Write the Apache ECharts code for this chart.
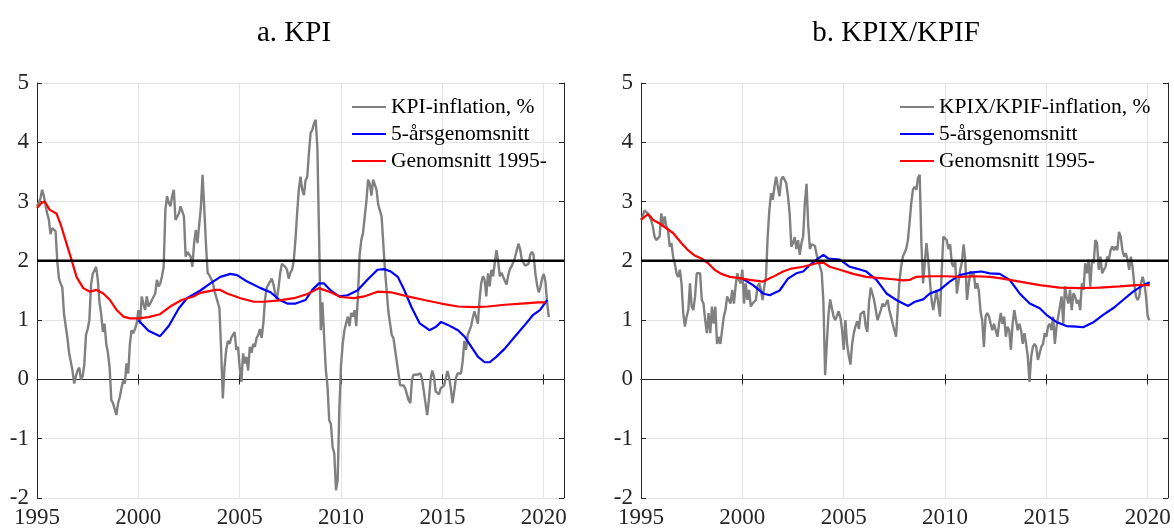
<!DOCTYPE html>
<html>
<head>
<meta charset="utf-8">
<script src="https://cdn.jsdelivr.net/npm/echarts@6/dist/echarts.min.js"></script>
<style>
  html, body { margin: 0; padding: 0; background: #fff; }
  #chart { width: 1174px; height: 530px; }
</style>
</head>
<body>
<div id="chart"></div>
<script>
// monthly samples, first point Jan 1995
const startYear = 1995;
const stepYears = 1 / 12;

// a. KPI, yearly inflation (%)
const kpiInflation = [
  2.92, 2.98, 3.05, 3.2, 3.1, 2.95, 2.8, 2.7, 2.45, 2.55, 2.58, 2.5,
  2.0, 1.7, 1.62, 1.55, 1.1, 0.9, 0.7, 0.45, 0.3, 0.15, -0.07, 0.05,
  0.15, 0.2, 0.0, 0.05, 0.25, 0.75, 0.85, 1.0, 1.6, 1.78, 1.8, 1.9,
  1.68, 1.3, 1.1, 0.8, 0.94, 0.6, 0.45, 0.2, -0.35, -0.4, -0.5, -0.6,
  -0.4, -0.3, -0.15, -0.02, -0.07, 0.27, 0.1, 0.6, 0.83, 0.78, 0.85, 0.94,
  1.17, 0.94, 1.4, 1.28, 1.17, 1.4, 1.23, 1.28, 1.34, 1.34, 1.45, 1.68,
  1.57, 1.62, 1.74, 1.9, 2.86, 3.09, 2.98, 2.92, 3.09, 3.2, 2.69, 2.69,
  2.8, 2.92, 2.92, 2.75, 2.07, 2.15, 2.18, 2.07, 1.9, 2.3, 2.52, 2.3,
  2.6, 2.9, 3.45, 2.9, 2.3, 1.8, 1.76, 1.7, 1.65, 1.5, 1.4, 1.4,
  1.2, 0.5, -0.32, 0.2, 0.5, 0.65, 0.6, 0.7, 0.75, 0.8, 0.5, 0.55,
  0.2, -0.04, 0.44, 0.27, 0.38, 0.15, 0.55, 0.45, 0.6, 0.55, 0.7, 0.75,
  0.85, 0.7, 0.95, 1.35, 1.55, 1.6, 1.65, 1.7, 1.6, 1.45, 1.35, 1.55,
  1.8, 1.95, 1.96, 1.9, 1.85, 1.7, 1.8, 1.85, 2.0, 2.35, 2.8, 3.2,
  3.42, 3.2, 3.11, 3.36, 3.42, 3.82, 4.16, 4.21, 4.32, 4.38, 3.9, 2.4,
  0.83, 1.3, 0.7, 0.16, -0.12, -0.69, -0.75, -1.14, -1.25, -1.87, -1.7, -0.5,
  0.25, 0.6, 0.83, 0.85, 1.06, 0.9, 1.12, 1.06, 1.17, 0.9, 1.4, 2.1,
  2.35, 2.47, 2.5, 3.0, 3.37, 3.3, 3.1, 3.37, 3.37, 3.2, 2.95, 2.85,
  2.75, 2.3, 1.85, 1.5, 1.15, 0.95, 0.75, 0.7, 0.5, 0.3, 0.1, -0.1,
  -0.08, -0.1, -0.15, -0.15, -0.35, -0.4, 0.0, 0.08, 0.05, 0.08, 0.08, 0.1,
  0.0, -0.2, -0.4, -0.6, -0.35, 0.0, 0.15, 0.05, -0.2, -0.22, -0.25, -0.15,
  -0.15, -0.1, 0.02, 0.14, 0.03, -0.15, -0.4, -0.2, 0.02, 0.1, 0.08, 0.1,
  0.3, 0.65, 0.5, 0.75, 0.73, 0.9, 1.04, 1.15, 1.12, 0.94, 1.34, 1.62,
  1.74, 1.68, 1.4, 1.79, 1.57, 1.85, 1.74, 1.96, 2.18, 2.0, 1.74, 1.8,
  1.83, 1.66, 1.6, 1.76, 1.86, 1.91, 1.98, 2.06, 2.08, 2.29, 2.2, 2.02,
  2.0, 1.92, 1.95, 1.95, 2.1, 2.15, 2.1, 1.8, 1.6, 1.47, 1.55, 1.7,
  1.78, 1.65, 1.3, 1.05
];

// a. KPI, 5-year average [year, %]
const kpiAvg5 = [
  [2000.0, 1.0], [2000.5, 0.82], [2001.07, 0.73], [2001.5, 0.9], [2002.0, 1.2],
  [2002.4, 1.37], [2003.06, 1.5], [2003.55, 1.62], [2004.05, 1.73], [2004.54, 1.78],
  [2004.87, 1.76], [2005.37, 1.65], [2006.03, 1.54], [2006.52, 1.47], [2006.93, 1.35],
  [2007.35, 1.28], [2007.76, 1.28], [2008.0, 1.31], [2008.25, 1.34], [2008.58, 1.51],
  [2008.91, 1.62], [2009.16, 1.62], [2009.49, 1.5], [2009.9, 1.4], [2010.32, 1.42],
  [2010.81, 1.5], [2011.3, 1.68], [2011.8, 1.85], [2012.13, 1.86], [2012.46, 1.82],
  [2012.8, 1.73], [2013.13, 1.5], [2013.46, 1.23], [2013.87, 0.95], [2014.36, 0.83],
  [2014.69, 0.89], [2014.94, 0.97], [2015.27, 0.92], [2015.77, 0.83], [2016.1, 0.72],
  [2016.43, 0.55], [2016.76, 0.38], [2017.09, 0.29], [2017.33, 0.29], [2017.66, 0.38],
  [2018.08, 0.52], [2018.57, 0.72], [2019.07, 0.92], [2019.48, 1.09], [2019.81, 1.17],
  [2020.17, 1.34]
];

// a. KPI, average since 1995 [year, %]
const kpiAvgSince = [
  [1995.0, 2.89], [1995.2, 2.97], [1995.38, 3.0], [1995.63, 2.86], [1995.96, 2.8],
  [1996.2, 2.58], [1996.45, 2.3], [1996.7, 2.02], [1996.95, 1.73], [1997.28, 1.54],
  [1997.61, 1.48], [1997.94, 1.51], [1998.27, 1.45], [1998.6, 1.34], [1998.93, 1.17],
  [1999.26, 1.06], [1999.59, 1.03], [2000.0, 1.03], [2000.5, 1.05], [2001.07, 1.1],
  [2001.57, 1.23], [2002.14, 1.34], [2002.72, 1.4], [2003.06, 1.46], [2003.8, 1.51],
  [2004.05, 1.51], [2004.38, 1.45], [2005.04, 1.37], [2005.7, 1.31], [2006.19, 1.31],
  [2006.85, 1.33], [2007.68, 1.37], [2008.34, 1.44], [2008.91, 1.54], [2009.49, 1.47],
  [2009.99, 1.39], [2010.65, 1.37], [2011.14, 1.4], [2011.8, 1.48], [2012.46, 1.47],
  [2013.29, 1.4], [2014.11, 1.34], [2014.94, 1.28], [2015.77, 1.23], [2016.59, 1.22],
  [2017.25, 1.23], [2018.08, 1.26], [2018.9, 1.28], [2019.73, 1.3], [2020.1, 1.3]
];

// b. KPIX/KPIF, yearly inflation (%)
const kpifInflation = [
  2.69, 2.75, 2.85, 2.87, 2.8, 2.75, 2.69, 2.58, 2.41, 2.35, 2.38, 2.41,
  2.8, 2.58, 2.75, 2.58, 2.52, 2.24, 2.3, 2.07, 1.96, 1.79, 1.73, 1.85,
  1.62, 1.12, 0.89, 1.06, 1.17, 1.62, 1.23, 1.17, 1.4, 1.79, 1.79, 1.79,
  1.34, 1.28, 1.0, 0.78, 1.12, 0.78, 1.23, 0.94, 1.23, 0.6, 0.72, 0.6,
  0.6, 1.06, 1.17, 1.4, 1.34, 1.28, 1.51, 1.28, 1.57, 1.79, 1.68, 1.62,
  1.85, 1.28, 1.62, 1.34, 1.51, 1.23, 1.28, 1.28, 1.34, 1.57, 1.62, 1.51,
  1.34, 1.57, 1.73, 2.41, 2.86, 3.14, 3.03, 3.25, 3.42, 3.25, 3.09, 3.37,
  3.42, 3.37, 3.31, 3.09, 2.8, 2.24, 2.3, 2.4, 2.2, 2.35, 2.1, 2.3,
  2.41, 2.97, 3.3, 2.6, 2.2, 2.28, 2.3, 2.25, 2.1, 2.0, 1.9, 1.8,
  1.3, 0.07, 0.6, 1.1, 1.35, 1.2, 1.06, 1.0, 1.03, 1.15, 1.05, 0.85,
  0.5, 1.0, 0.6, 0.4, 0.25, 0.6, 0.78, 0.9, 0.98, 0.85, 1.1, 1.08,
  1.15, 0.9, 0.8, 1.3, 1.55, 1.52, 1.34, 1.17, 1.0, 1.0, 1.17, 1.28,
  1.23, 1.28, 1.34, 1.17, 1.06, 0.94, 0.94, 0.72, 1.2, 1.65, 1.9, 2.07,
  2.1, 2.2, 2.35, 2.65, 2.97, 3.2, 3.25, 3.2, 3.4, 3.45, 2.3, 1.62,
  1.96, 2.3, 2.02, 1.68, 1.34, 1.17, 1.34, 1.51, 1.28, 1.06, 1.8, 2.41,
  2.4, 2.35, 2.2, 2.28, 1.96, 1.9, 2.0, 1.45, 1.65, 1.85, 1.98, 2.28,
  2.0, 1.34, 1.6, 1.82, 1.75, 1.8, 1.53, 1.62, 1.5, 1.15, 1.0, 0.55,
  1.06, 1.12, 1.06, 0.94, 0.83, 0.94, 0.83, 0.72, 0.94, 1.12, 0.94, 1.06,
  0.72, 0.89, 0.83, 0.5, 0.94, 1.17, 1.0, 0.83, 0.94, 0.83, 0.6, 0.78,
  0.6, 0.38, -0.04, 0.38, 0.55, 0.6, 0.55, 0.33, 0.44, 0.55, 0.6, 0.78,
  0.72, 0.89, 0.94, 0.83, 1.06, 0.6, 0.89, 1.06, 1.06, 1.4, 0.94, 1.57,
  1.4, 1.28, 1.51, 1.17, 1.45, 1.4, 1.28, 1.34, 1.17, 1.62, 1.51, 1.96,
  1.79, 2.02, 1.57, 2.02, 1.96, 2.35, 2.3, 1.85, 2.07, 1.79, 1.85, 1.9,
  2.07, 2.02, 2.18, 2.24, 2.18, 2.24, 2.18, 2.49, 2.41, 2.18, 2.07, 2.13,
  2.02, 1.85, 2.07, 1.9, 1.62, 1.4, 1.34, 1.4, 1.62, 1.73, 1.62, 1.4,
  1.06, 1.0
];

// b. KPIX/KPIF, 5-year average [year, %]
const kpifAvg5 = [
  [2000.0, 1.7], [2000.53, 1.59], [2001.02, 1.45], [2001.35, 1.42], [2001.84, 1.5],
  [2002.25, 1.7], [2002.66, 1.79], [2003.0, 1.82], [2003.33, 1.93], [2003.66, 2.02],
  [2004.0, 2.1], [2004.23, 2.04], [2004.81, 2.02], [2005.3, 1.9], [2005.63, 1.87],
  [2006.12, 1.82], [2006.62, 1.68], [2007.11, 1.45], [2007.6, 1.34], [2007.93, 1.28],
  [2008.18, 1.24], [2008.51, 1.31], [2008.92, 1.35], [2009.25, 1.45], [2009.74, 1.51],
  [2010.23, 1.65], [2010.73, 1.76], [2011.22, 1.8], [2011.8, 1.82], [2012.21, 1.79],
  [2012.7, 1.78], [2013.19, 1.68], [2013.68, 1.45], [2014.18, 1.28], [2014.67, 1.2],
  [2015.0, 1.09], [2015.49, 0.97], [2015.99, 0.9], [2016.48, 0.89], [2016.81, 0.88],
  [2017.3, 0.96], [2017.8, 1.09], [2018.29, 1.2], [2018.78, 1.34], [2019.28, 1.48],
  [2019.77, 1.59], [2020.1, 1.64]
];

// b. KPIX/KPIF, average since 1995 [year, %]
const kpifAvgSince = [
  [1995.0, 2.69], [1995.35, 2.79], [1995.6, 2.69], [1995.92, 2.63], [1996.25, 2.55],
  [1996.58, 2.47], [1996.99, 2.3], [1997.32, 2.18], [1997.65, 2.09], [1997.98, 2.04],
  [1998.31, 1.96], [1998.63, 1.85], [1998.96, 1.78], [1999.38, 1.73], [1999.87, 1.71],
  [2000.36, 1.68], [2001.02, 1.65], [2001.51, 1.73], [2002.01, 1.82], [2002.42, 1.87],
  [2003.0, 1.9], [2003.66, 1.96], [2004.0, 1.97], [2004.31, 1.9], [2004.81, 1.85],
  [2005.47, 1.78], [2006.12, 1.73], [2006.78, 1.71], [2007.44, 1.69], [2007.93, 1.67],
  [2008.26, 1.68], [2008.59, 1.73], [2009.25, 1.74], [2010.07, 1.74], [2010.73, 1.73],
  [2011.55, 1.74], [2012.2, 1.73], [2012.7, 1.71], [2013.68, 1.65], [2014.67, 1.59],
  [2015.66, 1.55], [2016.64, 1.54], [2017.63, 1.55], [2018.62, 1.57], [2019.44, 1.59],
  [2020.1, 1.59]
];

const target = 2;
const panelTitles = ['a. KPI', 'b. KPIX/KPIF'];
const legendNames = [
  ['KPI-inflation, %', '5-årsgenomsnitt', 'Genomsnitt 1995-'],
  ['KPIX/KPIF-inflation, %', '5-årsgenomsnitt', 'Genomsnitt 1995-']
];

const FONT = '"Liberation Serif", "Times New Roman", serif';
const TXT = '#262626';
const AXIS = '#262626';
const GRIDLINE = '#e3e3e3';

function monthly(values) {
  return values.map((v, i) => [startYear + i * stepYears, v]);
}

const chart = echarts.init(document.getElementById('chart'), null, { renderer: 'canvas' });

const grids = [
  { left: 37, top: 83, width: 527, height: 415 },
  { left: 641, top: 83, width: 527, height: 415 }
];

const xAxes = [];
const yAxes = [];
grids.forEach((g, gi) => {
  xAxes.push({
    type: 'value', gridIndex: gi, min: 1995, max: 2021, interval: 5, position: 'bottom',
    axisLine: { show: true, lineStyle: { color: AXIS, width: 1 } },
    axisTick: { show: true, inside: true, length: 5, lineStyle: { color: AXIS } },
    axisLabel: {
      color: TXT, fontFamily: FONT, fontSize: 23, margin: 8,
      formatter: v => (v % 5 === 0 ? String(v) : '')
    },
    splitLine: { show: true, lineStyle: { color: GRIDLINE, width: 1 } }
  });
  xAxes.push({
    type: 'value', gridIndex: gi, min: 1995, max: 2021, interval: 5, position: 'top',
    axisLine: { show: true, lineStyle: { color: AXIS, width: 1 } },
    axisTick: { show: true, inside: true, length: 5, lineStyle: { color: AXIS } },
    axisLabel: { show: false }, splitLine: { show: false }
  });
  yAxes.push({
    type: 'value', gridIndex: gi, min: -2, max: 5, interval: 1, position: 'left',
    axisLine: { show: true, lineStyle: { color: AXIS, width: 1 } },
    axisTick: { show: true, inside: true, length: 5, lineStyle: { color: AXIS } },
    axisLabel: { color: TXT, fontFamily: FONT, fontSize: 23, margin: 8 },
    splitLine: { show: true, lineStyle: { color: GRIDLINE, width: 1 } }
  });
  yAxes.push({
    type: 'value', gridIndex: gi, min: -2, max: 5, interval: 1, position: 'right',
    axisLine: { show: true, lineStyle: { color: AXIS, width: 1 } },
    axisTick: { show: true, inside: true, length: 5, lineStyle: { color: AXIS } },
    axisLabel: { show: false }, splitLine: { show: false }
  });
});

function lineSeries(name, data, color, width, axisIdx, z) {
  return {
    name: name, type: 'line', data: data,
    xAxisIndex: axisIdx * 2, yAxisIndex: axisIdx * 2,
    symbol: 'none', smooth: false, z: z,
    lineStyle: { color: color, width: width },
    itemStyle: { color: color },
    emphasis: { disabled: true }
  };
}

function targetLine(axisIdx) {
  return {
    name: 'target', type: 'line', data: [[1995, target], [2021, target]],
    xAxisIndex: axisIdx * 2, yAxisIndex: axisIdx * 2,
    symbol: 'none', z: 10,
    lineStyle: { color: '#000', width: 2.5 },
    emphasis: { disabled: true }
  };
}

const series = [
  lineSeries(legendNames[0][0], monthly(kpiInflation), '#808080', 2.4, 0, 2),
  lineSeries(legendNames[0][1], kpiAvg5, '#0000ff', 2.2, 0, 3),
  lineSeries(legendNames[0][2], kpiAvgSince, '#ff0000', 2.2, 0, 4),
  targetLine(0),
  lineSeries(legendNames[1][0], monthly(kpifInflation), '#808080', 2.4, 1, 2),
  lineSeries(legendNames[1][1], kpifAvg5, '#0000ff', 2.2, 1, 3),
  lineSeries(legendNames[1][2], kpifAvgSince, '#ff0000', 2.2, 1, 4),
  targetLine(1)
];

function legendAt(left, names) {
  return {
    data: names, orient: 'vertical', left: left, top: 96, padding: 0,
    itemWidth: 34, itemHeight: 12, itemGap: 5,
    icon: 'path://M0,5 L34,5 L34,7 L0,7 Z',
    selectedMode: false,
    textStyle: { color: '#000', fontFamily: FONT, fontSize: 21.5, lineHeight: 21.5 }
  };
}

chart.setOption({
  animation: false,
  backgroundColor: '#fff',
  title: [
    { text: panelTitles[0], left: 289, top: 14, textAlign: 'center',
      textStyle: { fontFamily: FONT, fontWeight: 'normal', fontSize: 29, color: '#000' } },
    { text: panelTitles[1], left: 891, top: 14, textAlign: 'center',
      textStyle: { fontFamily: FONT, fontWeight: 'normal', fontSize: 29, color: '#000' } }
  ],
  legend: [legendAt(352, legendNames[0]), legendAt(900, legendNames[1])],
  grid: grids,
  xAxis: xAxes,
  yAxis: yAxes,
  series: series
});
</script>
</body>
</html>
